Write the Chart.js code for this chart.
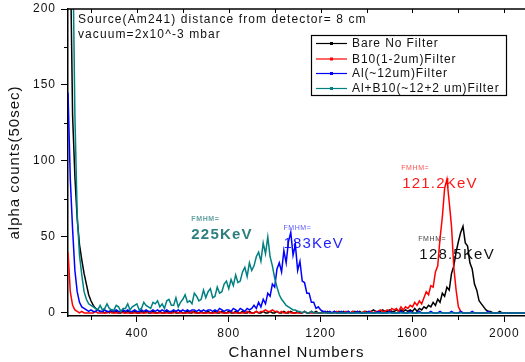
<!DOCTYPE html>
<html>
<head>
<meta charset="utf-8">
<script src="https://cdn.jsdelivr.net/npm/chart.js@4.4.1/dist/chart.umd.min.js"></script>
<style>
  html, body { margin: 0; padding: 0; background: #fff; }
  canvas { display: block; }
</style>
</head>
<body>
<canvas id="spectra" width="525" height="362"></canvas>
<script>
// channel grid (10 channel bins)
const channels = [
  100, 110, 120, 130, 140, 150, 160, 170, 180, 190,
  200, 210, 220, 230, 240, 250, 260, 270, 280, 290,
  300, 310, 320, 330, 340, 350, 360, 370, 380, 390,
  400, 410, 420, 430, 440, 450, 460, 470, 480, 490,
  500, 510, 520, 530, 540, 550, 560, 570, 580, 590,
  600, 610, 620, 630, 640, 650, 660, 670, 680, 690,
  700, 710, 720, 730, 740, 750, 760, 770, 780, 790,
  800, 810, 820, 830, 840, 850, 860, 870, 880, 890,
  900, 910, 920, 930, 940, 950, 960, 970, 980, 990,
  1000, 1010, 1020, 1030, 1040, 1050, 1060, 1070, 1080, 1090,
  1100, 1110, 1120, 1130, 1140, 1150, 1160, 1170, 1180, 1190,
  1200, 1210, 1220, 1230, 1240, 1250, 1260, 1270, 1280, 1290,
  1300, 1310, 1320, 1330, 1340, 1350, 1360, 1370, 1380, 1390,
  1400, 1410, 1420, 1430, 1440, 1450, 1460, 1470, 1480, 1490,
  1500, 1510, 1520, 1530, 1540, 1550, 1560, 1570, 1580, 1590,
  1600, 1610, 1620, 1630, 1640, 1650, 1660, 1670, 1680, 1690,
  1700, 1710, 1720, 1730, 1740, 1750, 1760, 1770, 1780, 1790,
  1800, 1810, 1820, 1830, 1840, 1850, 1860, 1870, 1880, 1890,
  1900, 1910, 1920, 1930, 1940, 1950, 1960, 1970, 1980, 1990,
  2000, 2010, 2020, 2030, 2040, 2050, 2060, 2070, 2080, 2090
];

const bareCounts = [
  250, 240, 130, 90, 62, 45, 35, 26, 19, 12,
  8, 5, 3, 2, 1, 1, 0, 1, 0, 1,
  0, 1, 0, 0, 1, 0, 1, 0, 0, 1,
  0, 0, 1, 0, 1, 0, 0, 1, 0, 0,
  1, 0, 0, 1, 0, 0, 1, 0, 0, 1,
  0, 0, 1, 0, 0, 1, 0, 0, 1, 0,
  0, 1, 0, 0, 1, 0, 0, 1, 0, 0,
  1, 0, 0, 1, 0, 0, 1, 0, 0, 1,
  0, 0, 1, 0, 0, 1, 0, 0, 1, 0,
  0, 1, 0, 0, 1, 0, 0, 1, 0, 0,
  1, 0, 0, 1, 0, 0, 1, 0, 1, 0,
  0, 1, 0, 1, 0, 0, 1, 0, 1, 0,
  1, 0, 1, 0, 1, 1, 0, 1, 0, 1,
  1, 0, 1, 2, 1, 0, 1, 2, 1, 1,
  2, 1, 1, 2, 1, 2, 1, 2, 1, 2,
  1, 3, 1, 3, 2, 4, 3, 5, 4, 7,
  5, 9, 7, 13, 11, 17, 15, 26, 31, 40,
  47, 53, 57, 46, 44, 33, 29, 19, 15, 8,
  6, 4, 2, 1, 1, 0, 0, 0, 1, 0,
  0, 0, 0, 0, 0, 0, 0, 0, 0, 0
];

const b10Counts = [
  40, 14, 5, 2, 1, 0, 1, 0, 0, 0,
  0, 0, 1, 0, 0, 0, 0, 0, 1, 0,
  0, 0, 0, 1, 0, 0, 0, 0, 0, 0,
  0, 0, 0, 0, 0, 1, 0, 0, 0, 0,
  0, 0, 0, 0, 0, 0, 0, 1, 0, 0,
  0, 0, 0, 0, 1, 0, 0, 0, 0, 0,
  0, 0, 0, 0, 0, 0, 1, 0, 0, 0,
  0, 1, 0, 0, 0, 0, 0, 0, 1, 0,
  0, 0, 1, 0, 1, 1, 2, 1, 1, 2,
  1, 1, 0, 1, 0, 0, 1, 0, 0, 0,
  0, 0, 0, 1, 0, 0, 0, 0, 0, 0,
  0, 0, 1, 0, 0, 0, 0, 1, 0, 0,
  0, 1, 0, 0, 1, 0, 1, 0, 0, 1,
  0, 1, 1, 0, 1, 1, 2, 1, 1, 2,
  1, 3, 2, 3, 1, 4, 2, 4, 3, 5,
  4, 7, 5, 8, 6, 10, 14, 12, 18, 17,
  27, 31, 49, 63, 82, 88, 73, 57, 30, 15,
  4, 1, 0, 0, 0, 0, 0, 0, 0, 0,
  0, 0, 0, 0, 0, 0, 0, 0, 0, 0,
  0, 0, 0, 0, 0, 0, 0, 0, 0, 0
];

const alCounts = [
  145, 88, 55, 28, 14, 7, 4, 3, 2, 1,
  2, 1, 1, 2, 1, 1, 2, 1, 1, 2,
  1, 2, 1, 1, 2, 1, 2, 1, 1, 2,
  1, 1, 2, 1, 2, 1, 1, 2, 1, 2,
  1, 2, 1, 2, 1, 1, 2, 1, 2, 1,
  2, 1, 2, 1, 2, 2, 1, 2, 1, 2,
  1, 2, 2, 1, 2, 1, 3, 2, 1, 2,
  2, 1, 3, 2, 1, 3, 2, 1, 3, 2,
  3, 5, 3, 7, 4, 9, 6, 13, 11, 19,
  17, 29, 33, 27, 41, 33, 47, 53, 38, 45,
  28, 34, 21, 20, 13, 13, 7, 7, 3, 4,
  2, 1, 1, 0, 1, 0, 1, 0, 0, 1,
  0, 0, 1, 0, 0, 0, 1, 0, 0, 0,
  0, 1, 0, 0, 0, 1, 0, 0, 0, 0,
  1, 0, 0, 0, 0, 1, 0, 0, 0, 1,
  0, 0, 0, 1, 0, 0, 0, 0, 1, 0,
  0, 0, 1, 0, 0, 0, 0, 1, 0, 0,
  0, 1, 0, 0, 0, 0, 1, 0, 0, 0,
  0, 0, 0, 1, 0, 0, 0, 0, 0, 0,
  0, 0, 0, 0, 0, 0, 0, 0, 0, 0
];

const alB10Counts = [
  260, 260, 250, 130, 65, 38, 25, 14, 9, 6,
  5, 4, 3, 2, 5, 2, 3, 6, 3, 2,
  2, 5, 4, 1, 3, 3, 6, 2, 4, 5,
  6, 2, 3, 7, 5, 4, 3, 7, 6, 8,
  4, 6, 3, 8, 9, 5, 5, 10, 4, 7,
  9, 12, 7, 8, 6, 13, 11, 8, 9, 15,
  10, 14, 16, 10, 11, 17, 13, 14, 19, 21,
  16, 22, 18, 25, 20, 21, 27, 30, 24, 33,
  28, 31, 37, 40, 34, 46, 39, 50, 37, 31,
  23, 17, 12, 9, 7, 5, 4, 3, 2, 2,
  1, 1, 0, 1, 0, 0, 1, 0, 0, 0,
  0, 0, 0, 0, 0, 0, 0, 0, 0, 0,
  0, 0, 0, 0, 0, 0, 0, 0, 0, 0,
  0, 0, 0, 0, 0, 0, 0, 0, 0, 0,
  0, 0, 0, 0, 0, 0, 0, 0, 0, 0,
  0, 0, 0, 0, 0, 0, 0, 0, 0, 0,
  0, 0, 0, 0, 0, 0, 0, 0, 0, 0,
  0, 0, 0, 0, 0, 0, 0, 0, 0, 0,
  0, 0, 0, 0, 0, 0, 0, 0, 0, 0,
  0, 0, 0, 0, 0, 0, 0, 0, 0, 0
];

const seriesNames = ["Bare No Filter", "B10(1-2um)Filter", "Al(~12um)Filter", "Al+B10(~12+2 um)Filter"];
const seriesColors = ["#000000", "#ff0000", "#0000ff", "#008080"];

const xMajorTicks = [400, 800, 1200, 1600, 2000];
const xMinorTicks = [200, 600, 1000, 1400, 1800];
const yMajorTicks = [0, 50, 100, 150, 200];
const yMinorTicks = [25, 75, 125, 175];

// FWHM notes, placed in data units
const notes = [
  { text: "FMHM=", x: 637, y: 62, font: "bold 7px 'Liberation Sans'", color: "#66a3a3" },
  { text: "225KeV", x: 637, y: 51.5, font: "bold 15px 'Liberation Sans'", color: "#2e7f7f" },
  { text: "FMHM=", x: 1038, y: 56, font: "7px 'Liberation Sans'", color: "#5a5aff" },
  { text: "183KeV", x: 1038, y: 45.5, font: "15px 'Liberation Sans'", color: "#1f1fff" },
  { text: "FMHM=", x: 1551, y: 95.5, font: "7px 'Liberation Sans'", color: "#ff5050" },
  { text: "121.2KeV", x: 1555, y: 85, font: "15px 'Liberation Sans'", color: "#ff1a1a" },
  { text: "FMHM=", x: 1625, y: 48.5, font: "7px 'Liberation Sans'", color: "#444" },
  { text: "128.5KeV", x: 1630, y: 38, font: "15px 'Liberation Sans'", color: "#111" }
];

const allCounts = [bareCounts, b10Counts, alCounts, alB10Counts];
const drawOrder = [3, 2, 1, 0];

const datasets = allCounts.map((counts, k) => ({
  label: seriesNames[k],
  data: channels.map((c, i) => ({ x: c, y: counts[i] })),
  borderColor: seriesColors[k],
  backgroundColor: seriesColors[k],
  borderWidth: 1.5,
  pointRadius: 0,
  tension: 0,
  order: drawOrder[k]
}));

const extras = {
  id: 'extras',
  beforeDraw(chart) {
    chart.ctx.letterSpacing = '1px';
  },
  beforeDatasetsDraw(chart) {
    const ctx = chart.ctx, xs = chart.scales.x, ys = chart.scales.y;
    ctx.save();
    ctx.textBaseline = 'middle';
    ctx.textAlign = 'left';
    notes.forEach(n => {
      ctx.font = n.font;
      ctx.fillStyle = n.color;
      ctx.letterSpacing = n.font.indexOf('7px') >= 0 ? '0.6px' : '1.2px';
      ctx.fillText(n.text, xs.getPixelForValue(n.x), ys.getPixelForValue(n.y));
    });
    ctx.restore();
  },
  afterDraw(chart) {
    const ctx = chart.ctx, area = chart.chartArea;
    const xs = chart.scales.x, ys = chart.scales.y;
    ctx.save();
    ctx.strokeStyle = '#000';
    ctx.lineWidth = 1.5;
    // top frame
    ctx.beginPath();
    ctx.moveTo(area.left, area.top);
    ctx.lineTo(area.right, area.top);
    ctx.stroke();
    // minor ticks
    ctx.lineWidth = 1;
    ctx.beginPath();
    xMinorTicks.forEach(v => {
      const px = Math.round(xs.getPixelForValue(v)) + 0.5;
      ctx.moveTo(px, area.bottom);
      ctx.lineTo(px, area.bottom + 4);
    });
    yMinorTicks.forEach(v => {
      const py = Math.round(ys.getPixelForValue(v)) + 0.5;
      ctx.moveTo(area.left, py);
      ctx.lineTo(area.left - 4, py);
    });
    xMajorTicks.concat(xMinorTicks).forEach(v => {
      const px = Math.round(xs.getPixelForValue(v)) + 0.5;
      ctx.moveTo(px, area.top);
      ctx.lineTo(px, area.top + 4);
    });
    ctx.stroke();

    // source info
    ctx.fillStyle = '#111';
    ctx.font = "12px 'Liberation Sans'";
    ctx.letterSpacing = '1.1px';
    ctx.textBaseline = 'middle';
    ctx.textAlign = 'left';
    ctx.fillText("Source(Am241) distance from detector= 8 cm", area.left + 10, 20);
    ctx.fillText("vacuum=2x10^-3 mbar", area.left + 10, 35);

    // legend box
    const bx = 311, by = 35, bw = 195, bh = 60;
    ctx.fillStyle = '#fff';
    ctx.fillRect(bx, by, bw, bh);
    ctx.lineWidth = 1.2;
    ctx.strokeStyle = '#000';
    ctx.strokeRect(bx + 0.5, by + 0.5, bw, bh);
    const rowY = [43.5, 59, 73.5, 88.5];
    chart.data.datasets.forEach((ds, k) => {
      const y = rowY[k];
      ctx.strokeStyle = ds.borderColor;
      ctx.lineWidth = 1.2;
      ctx.beginPath();
      ctx.moveTo(316, y);
      ctx.lineTo(347, y);
      ctx.stroke();
      ctx.fillStyle = ds.borderColor;
      ctx.fillRect(330, y - 1.5, 3, 3);
      ctx.fillStyle = '#111';
      ctx.font = "12px 'Liberation Sans'";
      ctx.letterSpacing = '0.9px';
      ctx.fillText(ds.label, 352, y + 0.5);
    });
    ctx.restore();
  }
};

new Chart(document.getElementById('spectra'), {
  type: 'line',
  data: { datasets: datasets },
  options: {
    responsive: false,
    animation: false,
    events: [],
    layout: { padding: { top: 9, right: 0, left: 0, bottom: 0 } },
    plugins: {
      legend: { display: false },
      tooltip: { enabled: false }
    },
    scales: {
      x: {
        type: 'linear',
        min: 100,
        max: 2090,
        afterBuildTicks: s => { s.ticks = xMajorTicks.map(v => ({ value: v })); },
        afterFit: s => { s.height = 46; },
        ticks: {
          color: '#111',
          padding: 4,
          maxRotation: 0,
          callback: v => String(v),
          font: { family: 'Liberation Sans', size: 12 }
        },
        grid: { drawOnChartArea: false, tickLength: 6, color: '#000', lineWidth: 1 },
        border: { color: '#000', width: 1.5 },
        title: {
          display: true,
          text: 'Channel Numbers',
          color: '#111',
          font: { family: 'Liberation Sans', size: 15 },
          padding: { top: 0, bottom: 0 }
        }
      },
      y: {
        min: -2,
        max: 200,
        afterBuildTicks: s => { s.ticks = yMajorTicks.map(v => ({ value: v })); },
        afterFit: s => { s.width = 68; s.paddingTop = 0; s.paddingBottom = 0; },
        ticks: {
          color: '#111',
          padding: 5,
          callback: v => String(v),
          font: { family: 'Liberation Sans', size: 12 }
        },
        grid: { drawOnChartArea: false, tickLength: 7, color: '#000', lineWidth: 1 },
        border: { color: '#000', width: 1.5 },
        title: {
          display: true,
          text: 'alpha counts(50sec)',
          color: '#111',
          font: { family: 'Liberation Sans', size: 15 },
          padding: { top: 6, bottom: 0 }
        }
      }
    }
  },
  plugins: [extras]
});
</script>
</body>
</html>
